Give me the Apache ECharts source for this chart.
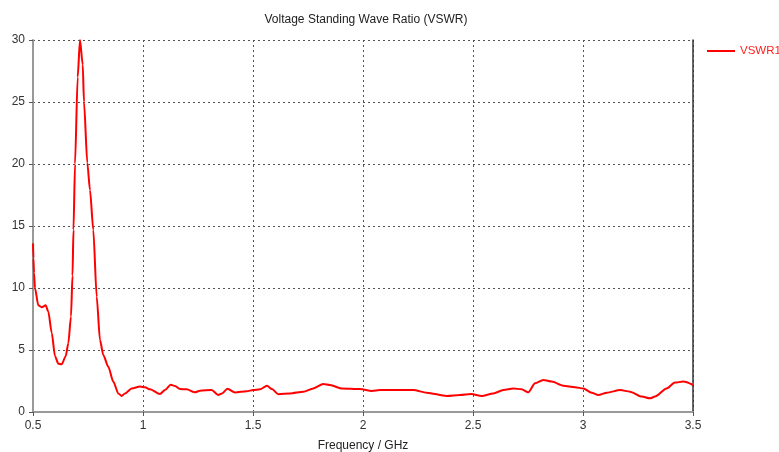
<!DOCTYPE html>
<html>
<head>
<meta charset="utf-8">
<script src="https://cdn.jsdelivr.net/npm/echarts@6/dist/echarts.min.js"></script>
<style>html,body{margin:0;padding:0;background:#fff;}#c{width:779px;height:452px;}</style>
</head>
<body>
<div id="c"></div>
<script>
var titleText = 'Voltage Standing Wave Ratio (VSWR)';
var xAxisName = 'Frequency / GHz';
var seriesName = 'VSWR1';
var freq = [0.500,0.502,0.5045,0.509,0.524,0.5395,0.5577,0.5695,0.585,0.600,0.615,0.6305,0.6486,0.6605,0.6727,0.6795,0.684,0.691,0.703,0.7136,0.726,0.7318,0.7468,0.759,0.774,0.7895,0.8045,0.8195,0.8423,0.865,0.8877,0.9032,0.918,0.9486,0.9864,1.009,1.032,1.077,1.100,1.126,1.1455,1.168,1.1986,1.236,1.259,1.312,1.342,1.359,1.384,1.418,1.471,1.5014,1.532,1.5636,1.586,1.615,1.668,1.729,1.774,1.8195,1.85,1.903,1.9864,2.04,2.077,2.2286,2.2895,2.380,2.441,2.491,2.5395,2.592,2.638,2.683,2.721,2.7514,2.782,2.8195,2.858,2.910,2.9636,3.0014,3.0395,3.0695,3.108,3.1695,3.2136,3.2668,3.305,3.327,3.380,3.418,3.456,3.500];
var vswr = [13.6,12.4,11.2,10.0,8.6,8.45,8.6,8.1,6.4,4.5,3.9,3.85,4.5,5.55,7.7,11,14.7,20,27,30,28,25,20.1,17.9,14.7,9.3,5.8,4.6,3.65,2.45,1.5,1.3,1.5,1.9,2.05,2.0,1.83,1.45,1.77,2.2,2.1,1.85,1.83,1.59,1.72,1.77,1.37,1.5,1.87,1.58,1.68,1.77,1.83,2.12,1.85,1.43,1.5,1.64,1.9,2.26,2.18,1.9,1.85,1.7,1.77,1.77,1.56,1.29,1.37,1.45,1.29,1.5,1.77,1.9,1.83,1.59,2.31,2.58,2.45,2.12,1.99,1.9,1.56,1.37,1.56,1.77,1.64,1.24,1.1,1.24,1.9,2.37,2.45,2.18];
var xMin = 0.5, xMax = 3.5, xStep = 0.5;
var yMin = 0, yMax = 30, yStep = 5;

var data = freq.map(function(f, i){ return [f, vswr[i]]; });
var font = 'Liberation Sans';
var chart = echarts.init(document.getElementById('c'), null, {renderer:'canvas'});
chart.setOption({
  animation: false,
  backgroundColor: '#ffffff',
  title: {
    text: titleText, left: 361, top: 9, textAlign: 'center',
    textStyle: {fontFamily: font, fontSize: 12, fontWeight: 'normal', color: '#222'}
  },
  legend: {
    left: 707, top: 45, orient: 'vertical', padding: 0,
    itemWidth: 28, itemHeight: 2, itemGap: 6,
    icon: 'rect',
    data: [{name: seriesName, itemStyle: {color: '#ff0000'}}],
    textStyle: {fontFamily: font, fontSize: 11.5, color: '#ff2020'}
  },
  grid: {left: 33, right: 86, top: 40, bottom: 40, containLabel: false, outerBoundsMode: 'none'},
  xAxis: [{
    type: 'value', min: xMin, max: xMax, interval: xStep,
    name: xAxisName, nameLocation: 'middle', nameGap: 28,
    nameTextStyle: {fontFamily: font, fontSize: 12, color: '#222'},
    axisLine: {show: true, lineStyle: {color: '#999', width: 2}},
    axisTick: {show: true, inside: false, length: 4, lineStyle: {color: '#555'}},
    axisLabel: {fontFamily: font, fontSize: 12, color: '#333', margin: 8},
    splitLine: {show: true, lineStyle: {color: '#555', type: [2, 3], width: 1}}
  }, {
    type: 'value', min: xMin, max: xMax, position: 'top',
    axisLine: {show: true, lineStyle: {color: '#999', width: 2}},
    axisTick: {show: false}, axisLabel: {show: false}, splitLine: {show: false}
  }],
  yAxis: [{
    type: 'value', min: yMin, max: yMax, interval: yStep,
    axisLine: {show: true, lineStyle: {color: '#999', width: 2}},
    axisTick: {show: true, length: 4, lineStyle: {color: '#555'}},
    axisLabel: {fontFamily: font, fontSize: 12, color: '#333', margin: 8},
    splitLine: {show: true, lineStyle: {color: '#555', type: [2, 3], width: 1}}
  }, {
    type: 'value', min: yMin, max: yMax, position: 'right',
    axisLine: {show: true, lineStyle: {color: '#333', width: 1.5}},
    axisTick: {show: false}, axisLabel: {show: false}, splitLine: {show: false}
  }],
  series: [{
    name: seriesName, type: 'line', data: data,
    showSymbol: false, smooth: 0.25, smoothMonotone: 'x',
    clip: true,
    lineStyle: {color: '#ff0000', width: 2},
    itemStyle: {color: '#ff0000'}
  }]
});
</script>
</body>
</html>
